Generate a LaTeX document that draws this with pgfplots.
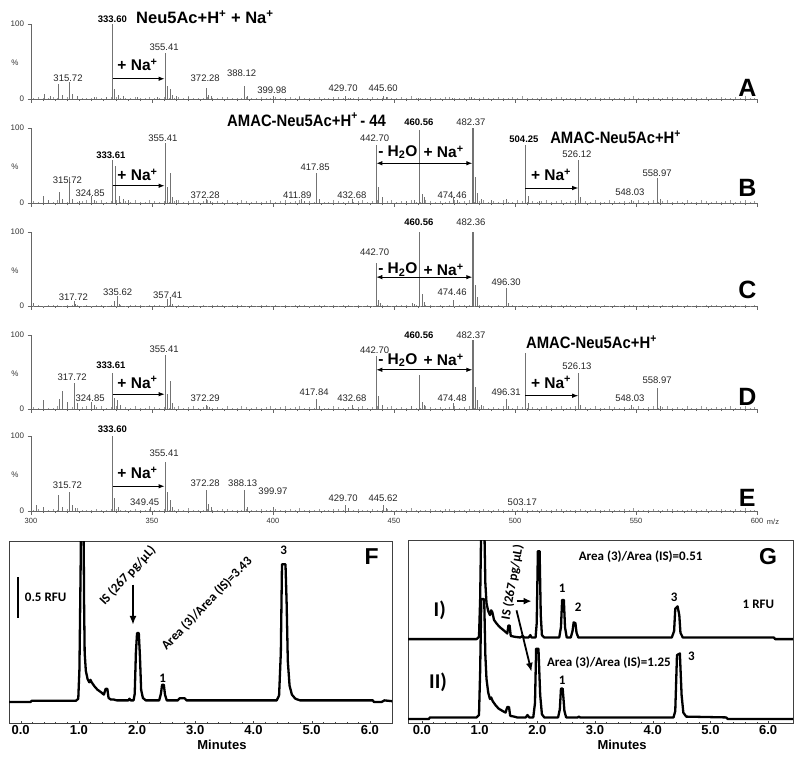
\documentclass[border=0pt]{standalone}
\usepackage{fontspec}
\setmainfont{Liberation Sans}
\newfontfamily\cali{Carlito}
\usepackage{pgfplots}
\pgfplotsset{compat=1.18}
\usepackage{pgfplotstable}
\usetikzlibrary{arrows.meta}

\pgfplotstableread{
x a b c
301 1.2 2.4 0.6
303 2.6 1.5 1.2
305 0.8 3.8 0.4
307 1.9 2.0 0.9
309 3.1 1.2 1.5
311 1.4 4.1 0.7
313 0.9 2.7 0.5
315 2.2 1.8 1.1
317 1.7 3.3 0.8
319 3.4 1.4 1.6
321 1.1 2.9 0.6
323 2.0 4.4 1.0
325 0.7 1.7 0.4
327 2.8 2.2 1.3
329 1.5 3.6 0.7
331 1.0 1.3 0.5
333 2.4 2.5 1.2
335 3.0 3.9 0.6
337 1.3 1.9 1.2
339 0.8 2.4 0.4
341 1.8 1.5 0.9
343 2.7 3.8 1.5
345 1.6 2.0 0.7
347 1.2 1.2 0.5
349 2.6 4.1 1.1
351 0.8 2.7 0.8
353 1.9 1.8 1.6
355 3.1 3.3 0.6
357 1.4 1.4 1.0
359 0.9 2.9 0.4
361 2.2 4.4 1.3
363 1.7 1.7 0.7
365 3.4 2.2 0.5
367 1.1 3.6 1.2
369 2.0 1.3 0.6
371 0.7 2.5 1.2
373 2.8 3.9 0.4
375 1.5 1.9 0.9
377 1.0 2.4 1.5
379 2.4 1.5 0.7
381 3.0 3.8 0.5
383 1.3 2.0 1.1
385 0.8 1.2 0.8
387 1.8 4.1 1.6
389 2.7 2.7 0.6
391 1.6 1.8 1.0
393 1.2 3.3 0.4
395 2.6 1.4 1.3
397 0.8 2.9 0.7
399 1.9 4.4 0.5
401 3.1 1.7 1.2
403 1.4 2.2 0.6
405 0.9 3.6 1.2
407 2.2 1.3 0.4
409 1.7 2.5 0.9
411 3.4 3.9 1.5
413 1.1 1.9 0.7
415 2.0 2.4 0.5
417 0.7 1.5 1.1
419 2.8 3.8 0.8
421 1.5 2.0 1.6
423 1.0 1.2 0.6
425 2.4 4.1 1.0
427 3.0 2.7 0.4
429 1.3 1.8 1.3
431 0.8 3.3 0.7
433 1.8 1.4 0.5
435 2.7 2.9 1.2
437 1.6 4.4 0.6
439 1.2 1.7 1.2
441 2.6 2.2 0.4
443 0.8 3.6 0.9
445 1.9 1.3 1.5
447 3.1 2.5 0.7
449 1.4 3.9 0.5
451 0.9 1.9 1.1
453 2.2 2.4 0.8
455 1.7 1.5 1.6
457 3.4 3.8 0.6
459 1.1 2.0 1.0
461 2.0 1.2 0.4
463 0.7 4.1 1.3
465 2.8 2.7 0.7
467 1.5 1.8 0.5
469 1.0 3.3 1.2
471 2.4 1.4 0.6
473 3.0 2.9 1.2
475 1.3 4.4 0.4
477 0.8 1.7 0.9
479 1.8 2.2 1.5
481 2.7 3.6 0.7
483 1.6 1.3 0.5
485 1.2 2.5 1.1
487 2.6 3.9 0.8
489 0.8 1.9 1.6
491 1.9 2.4 0.6
493 3.1 1.5 1.0
495 1.4 3.8 0.4
497 0.9 2.0 1.3
499 2.2 1.2 0.7
501 1.7 4.1 0.5
503 3.4 2.7 1.2
505 1.1 1.8 0.6
507 2.0 3.3 1.2
509 0.7 1.4 0.4
511 2.8 2.9 0.9
513 1.5 4.4 1.5
515 1.0 1.7 0.7
517 2.4 2.2 0.5
519 3.0 3.6 1.1
521 1.3 1.3 0.8
523 0.8 2.5 1.6
525 1.8 3.9 0.6
527 2.7 1.9 1.0
529 1.6 2.4 0.4
531 1.2 1.5 1.3
533 2.6 3.8 0.7
535 0.8 2.0 0.5
537 1.9 1.2 1.2
539 3.1 4.1 0.6
541 1.4 2.7 1.2
543 0.9 1.8 0.4
545 2.2 3.3 0.9
547 1.7 1.4 1.5
549 3.4 2.9 0.7
551 1.1 4.4 0.5
553 2.0 1.7 1.1
555 0.7 2.2 0.8
557 2.8 3.6 1.6
559 1.5 1.3 0.6
561 1.0 2.5 1.0
563 2.4 3.9 0.4
565 3.0 1.9 1.3
567 1.3 2.4 0.7
569 0.8 1.5 0.5
571 1.8 3.8 1.2
573 2.7 2.0 0.6
575 1.6 1.2 1.2
577 1.2 4.1 0.4
579 2.6 2.7 0.9
581 0.8 1.8 1.5
583 1.9 3.3 0.7
585 3.1 1.4 0.5
587 1.4 2.9 1.1
589 0.9 4.4 0.8
591 2.2 1.7 1.6
593 1.7 2.2 0.6
595 3.4 3.6 1.0
597 1.1 1.3 0.4
599 2.0 2.5 1.3
}\noise

\pgfplotsset{
  spec/.style={width=726pt,height=75pt,scale only axis,
    xmin=300,xmax=600,ymin=0,ymax=100,
    axis x line*=bottom,axis y line*=left,
    axis line style={black!60,line width=0.4pt,-},
    xtick={300,350,...,600},minor x tick num=9,xticklabels={},
    tick align=outside,major tick length=3.5pt,minor tick length=2pt,
    tick style={black!60,line width=0.4pt},
    ytick={0,100},yticklabels={0,100},
    /pgf/number format/assume math mode=true,
    yticklabel style={font=\fontsize{8}{9}\selectfont,text=black!80},
    clip=false},
  pk/.style={ycomb,black!55,line width=0.6pt,mark=none},
  nz/.style={ycomb,black!40,line width=0.35pt,mark=none},
  chrom/.style={scale only axis,
    axis line style={black!75,line width=0.5pt},
    xtick={0,1,2,3,4,5,6},xticklabels={0.0,1.0,2.0,3.0,4.0,5.0,6.0},
    ytick=\empty,xtick pos=bottom,tick align=inside,
    major tick length=2.5pt,minor x tick num=4,minor tick length=1.5pt,
    tick style={black!75},
    /pgf/number format/assume math mode=true,
    xticklabel style={font=\fontsize{13}{14}\selectfont\bfseries,yshift=1pt},
    xlabel={Minutes},
    xlabel style={at={(axis description cs:0.556,0)},anchor=north,yshift=-14pt,
      font=\fontsize{13}{14}\selectfont\bfseries}},
  trace/.style={black,line width=2.3pt,line join=round,line cap=round,mark=none}
}
\tikzset{
  lab/.style={font=\fontsize{9.5}{11}\selectfont,inner sep=0pt,text=black!85},
  blab/.style={font=\fontsize{9.5}{11}\selectfont\bfseries,inner sep=0pt},
  big/.style={font=\fontsize{15.5}{18}\selectfont\bfseries,inner sep=0pt},
  title/.style={font=\fontsize{16.5}{20}\selectfont\bfseries,inner sep=0pt,xscale=0.9},
  letter/.style={font=\fontsize{25}{28}\selectfont\bfseries,inner sep=0pt},
  arr/.style={-{Latex[length=6pt,width=4.5pt]},line width=0.9pt},
  darr/.style={{Latex[length=6pt,width=4.5pt]}-{Latex[length=6pt,width=4.5pt]},line width=0.9pt},
  ann/.style={font={\cali\bfseries\fontsize{13}{15}\selectfont},inner sep=0pt},
  roman/.style={font={\cali\bfseries\fontsize{21}{24}\selectfont},inner sep=0pt},
  pct/.style={font=\fontsize{8}{9}\selectfont,text=black!80}
}

\begin{document}
\begin{tikzpicture}
\useasboundingbox (0,0) rectangle (800pt,-760pt);

% ---------------- A ----------------
\begin{axis}[spec,at={(31pt,-99pt)},anchor=south west]
\addplot[nz] table[x=x,y=a]{\noise};
\addplot[pk] coordinates {(305.5,7)(308,4)(311.4,20)(313,6)(315.72,23)(317,7)(319,4)(326,3)(331,3)(333.6,100)(334.6,14)(336,6)(338,4)(344,3)(352,3)(355.41,61)(356.4,18)(357.4,14)(358.5,6)(360,4)(365,3)(372.28,15)(373.3,6)(374.5,4)(388.12,17)(389.2,4)(399.98,4)(411,2.5)(429.7,4)(432,2)(445.6,4)(447,2.5)(460,2)(474,2)(482,2.5)};
\node[pct] at (rel axis cs:0,0.48) [xshift=-16pt] {\%};
\node[blab] at (axis cs:333.6,107) {333.60};
\node[font=\fontsize{16.5}{20}\selectfont\bfseries,inner sep=0pt,anchor=west] at (axis cs:343.4,109) {Neu5Ac+H\textsuperscript{+} + Na\textsuperscript{+}};
\node[lab] at (axis cs:355.0,69) {355.41};
\node[lab] at (axis cs:315.3,28) {315.72};
\node[lab] at (axis cs:372,28) {372.28};
\node[lab] at (axis cs:387,35) {388.12};
\node[lab] at (axis cs:399.5,12) {399.98};
\node[lab] at (axis cs:429,15) {429.70};
\node[lab] at (axis cs:445.5,15) {445.60};
\node[big] at (axis cs:344,45) {+ Na\textsuperscript{+}};
\draw[arr] (axis cs:333.8,27) -- (axis cs:355.2,27);
\node[letter] at (axis cs:596,15) {A};
\end{axis}

% ---------------- B ----------------
\begin{axis}[spec,at={(31pt,-203pt)},anchor=south west]
\addplot[nz] table[x=x,y=b]{\noise};
\addplot[pk] coordinates {(305,10)(307,4)(311.5,15)(313,5)(315.72,35)(317,6)(320,3)(324.85,9)(326,4)(333.61,57)(335,50)(336.5,10)(338,6)(340,4)(355.41,80)(356.3,22)(357.4,40)(358.5,8)(360,4)(372.28,5)(374,3)(411.89,5)(413,3)(417.85,40)(419,5)(432.68,5)(442.7,78)(443.7,22)(445,8)(455,3)(458.5,4)(460.56,97)(461.5,12)(462.5,8)(474.46,8)(476,4)(482.37,100)(482.9,100)(483.6,35)(484.6,14)(486,6)(490,4)(496.3,5)(504.25,77)(505.3,10)(510,3)(526.12,57)(527.1,8)(548.03,4)(558.97,33)(560,5)};
\node[pct] at (rel axis cs:0,0.48) [xshift=-16pt] {\%};
\node[title,anchor=west] at (axis cs:381,111) {AMAC-Neu5Ac+H\textsuperscript{+}\,- 44};
\node[blab] at (axis cs:460.3,108) {460.56};
\node[lab] at (axis cs:481.8,108) {482.37};
\node[lab] at (axis cs:442,87) {442.70};
\node[big] at (axis cs:451.6,68) {- H\textsubscript{2}O};
\node[big] at (axis cs:470.5,68) {+ Na\textsuperscript{+}};
\draw[darr] (axis cs:442.7,53) -- (axis cs:482.37,53);
\node[blab] at (axis cs:503.7,85) {504.25};
\node[title,anchor=west] at (axis cs:514.5,88) {AMAC-Neu5Ac+H\textsuperscript{+}};
\node[lab] at (axis cs:525.6,65) {526.12};
\node[big] at (axis cs:514.9,37) {+ Na\textsuperscript{+}};
\draw[arr] (axis cs:504.25,20) -- (axis cs:526.12,20);
\node[lab] at (axis cs:558.7,40) {558.97};
\node[lab] at (axis cs:547.5,15) {548.03};
\node[lab] at (axis cs:474,11) {474.46};
\node[blab] at (axis cs:333,64) {333.61};
\node[lab] at (axis cs:354.5,87) {355.41};
\node[lab] at (axis cs:315,31) {315.72};
\node[lab] at (axis cs:324.4,13) {324.85};
\node[big] at (axis cs:344,37) {+ Na\textsuperscript{+}};
\draw[arr] (axis cs:333.8,23) -- (axis cs:355.2,23);
\node[lab] at (axis cs:372,11) {372.28};
\node[lab] at (axis cs:417.4,48) {417.85};
\node[lab] at (axis cs:410,11) {411.89};
\node[lab] at (axis cs:432.6,11) {432.68};
\node[letter] at (axis cs:596,20) {B};
\end{axis}

% ---------------- C ----------------
\begin{axis}[spec,at={(31pt,-306pt)},anchor=south west,height=74pt]
\addplot[nz] table[x=x,y=c]{\noise};
\addplot[pk] coordinates {(301,4)(317.72,7)(318.5,3)(334.3,7)(335.62,13)(336.5,3)(356.2,9)(357.41,12)(358.5,3)(442.7,58)(443.6,8)(444.5,4)(457.5,4)(458.5,3)(460.56,100)(461.5,16)(462.5,5)(474.46,8)(482.36,100)(482.9,100)(483.6,28)(484.5,12)(496.3,24)(497.3,4)};
\node[pct] at (rel axis cs:0,0.48) [xshift=-16pt] {\%};
\node[lab] at (axis cs:317.5,12) {317.72};
\node[lab] at (axis cs:335.8,19) {335.62};
\node[lab] at (axis cs:356.5,14) {357.41};
\node[lab] at (axis cs:442,73) {442.70};
\node[blab] at (axis cs:460.3,113) {460.56};
\node[lab] at (axis cs:481.8,113) {482.36};
\node[big] at (axis cs:451.6,49) {- H\textsubscript{2}O};
\node[big] at (axis cs:470.5,49) {+ Na\textsuperscript{+}};
\draw[darr] (axis cs:442.7,39) -- (axis cs:482.36,39);
\node[lab] at (axis cs:474,19) {474.46};
\node[lab] at (axis cs:496.3,32) {496.30};
\node[letter] at (axis cs:596,22) {C};
\end{axis}

% ---------------- D ----------------
\begin{axis}[spec,at={(31pt,-409pt)},anchor=south west,height=74pt]
\addplot[nz] table[x=x,y=b]{\noise};
\addplot[pk] coordinates {(305,12)(311.5,14)(313,25)(315,10)(317.72,35)(319,8)(324.85,10)(326,5)(333.61,49)(334.5,15)(335.6,12)(337,6)(355.41,73)(356.4,20)(357.4,38)(358.5,8)(372.29,5)(373.5,3)(417.84,14)(419,4)(432.68,5)(442.7,72)(443.7,18)(445,6)(457,4)(460.56,46)(461.5,10)(462.5,5)(474.48,8)(482.37,93)(482.9,93)(483.6,30)(484.6,12)(486,6)(496.31,14)(497.3,4)(504.25,76)(505.3,8)(526.13,49)(527.1,6)(548.03,5)(558.97,28)(560,4)};
\node[pct] at (rel axis cs:0,0.48) [xshift=-16pt] {\%};
\node[lab] at (axis cs:317,43) {317.72};
\node[blab] at (axis cs:333,59) {333.61};
\node[lab] at (axis cs:324.4,15) {324.85};
\node[lab] at (axis cs:355,81) {355.41};
\node[big] at (axis cs:344,36) {+ Na\textsuperscript{+}};
\draw[arr] (axis cs:333.8,20) -- (axis cs:355.2,20);
\node[lab] at (axis cs:372,15) {372.29};
\node[lab] at (axis cs:417,22) {417.84};
\node[lab] at (axis cs:432.6,15) {432.68};
\node[lab] at (axis cs:442,80) {442.70};
\node[blab] at (axis cs:460.3,100) {460.56};
\node[lab] at (axis cs:481.8,100) {482.37};
\node[big] at (axis cs:451.6,66) {- H\textsubscript{2}O};
\node[big] at (axis cs:470.5,66) {+ Na\textsuperscript{+}};
\draw[darr] (axis cs:442.7,53) -- (axis cs:482.37,53);
\node[lab] at (axis cs:474,15) {474.48};
\node[lab] at (axis cs:496.3,22) {496.31};
\node[title,anchor=west] at (axis cs:504.5,90) {AMAC-Neu5Ac+H\textsuperscript{+}};
\node[lab] at (axis cs:525.6,58) {526.13};
\node[big] at (axis cs:514.9,36) {+ Na\textsuperscript{+}};
\draw[arr] (axis cs:504.25,18) -- (axis cs:526.13,18);
\node[lab] at (axis cs:558.7,39) {558.97};
\node[lab] at (axis cs:547.5,15) {548.03};
\node[letter] at (axis cs:596,16) {D};
\end{axis}

% ---------------- E ----------------
\begin{axis}[spec,at={(31pt,-511pt)},anchor=south west,
  xticklabels={300,350,400,450,500,550,600},
  xticklabel style={font=\fontsize{7.5}{9}\selectfont,text=black!80}]
\addplot[nz] table[x=x,y=a]{\noise};
\addplot[pk] coordinates {(302,8)(305,5)(311.4,22)(313,6)(315.72,25)(317,8)(318.5,4)(333.6,100)(334.4,18)(336,6)(349.45,6)(355.41,65)(356.3,25)(357.4,15)(358.5,6)(372.28,28)(373.3,10)(374.5,5)(388.13,28)(389.2,5)(399.97,6)(429.7,8)(431,4)(445.62,8)(447,4)(503.17,3)};
\node[pct] at (rel axis cs:0,0.48) [xshift=-16pt] {\%};
\node[blab] at (axis cs:333.6,109) {333.60};
\node[lab] at (axis cs:355,77) {355.41};
\node[big] at (axis cs:344,51) {+ Na\textsuperscript{+}};
\draw[arr] (axis cs:333.8,33) -- (axis cs:355.2,33);
\node[lab] at (axis cs:315,35) {315.72};
\node[lab] at (axis cs:347,12) {349.45};
\node[lab] at (axis cs:372,37) {372.28};
\node[lab] at (axis cs:387.5,37) {388.13};
\node[lab] at (axis cs:400,27) {399.97};
\node[lab] at (axis cs:429,17) {429.70};
\node[lab] at (axis cs:445.5,17) {445.62};
\node[lab] at (axis cs:503,12) {503.17};
\node[letter] at (axis cs:596,17) {E};
\node[font=\fontsize{7.5}{9}\selectfont,text=black!80] at (rel axis cs:1,0) [xshift=16pt,yshift=-11pt] {m/z};
\end{axis}

% ---------------- F ----------------
\begin{axis}[chrom,at={(9pt,-723pt)},anchor=south west,width=383pt,height=182pt,
  xmin=-0.2,xmax=6.38,ymin=-0.256,ymax=1.963]
\addplot[trace] coordinates {(-0.2,0.0)(0.17,0.0)(0.19,0.015)(0.95,0.015)(0.99,0.04)(1.01,0.4)(1.03,1.6)(1.04,2.3)(1.08,2.3)(1.09,1.2)(1.10,0.6)(1.12,0.38)(1.15,0.28)(1.18,0.24)(1.20,0.27)(1.22,0.24)(1.27,0.19)(1.32,0.15)(1.38,0.12)(1.43,0.09)(1.46,0.16)(1.49,0.16)(1.51,0.05)(1.55,0.03)(1.6,0.03)(1.65,0.02)(1.85,0.02)(1.87,0.04)(1.89,0.02)(1.94,0.02)(1.96,0.1)(1.98,0.6)(2.00,0.84)(2.03,0.84)(2.05,0.55)(2.07,0.15)(2.10,0.05)(2.15,0.02)(2.38,0.02)(2.41,0.1)(2.43,0.21)(2.46,0.21)(2.48,0.09)(2.51,0.02)(2.70,0.02)(2.73,0.045)(2.82,0.045)(2.85,0.02)(4.40,0.02)(4.44,0.08)(4.47,0.6)(4.49,1.68)(4.55,1.68)(4.57,1.2)(4.59,0.5)(4.62,0.2)(4.66,0.09)(4.72,0.04)(4.8,0.02)(6.05,0.02)(6.07,0.0)(6.2,0.0)(6.25,0.02)(6.38,0.01)};
\draw[black,line width=2.2pt] (axis cs:-0.048,1.52) -- (axis cs:-0.048,1.02);
\node[ann,anchor=west] at (axis cs:0.07,1.28) {0.5 RFU};
\node[ann,rotate=47] at (axis cs:1.84,1.54) {IS (267 pg/µL)};
\draw[-{Latex[length=9pt,width=7pt]},line width=1.8pt] (axis cs:1.93,1.43) -- (axis cs:1.93,0.94);
\node[ann,rotate=46] at (axis cs:3.2,1.2) {Area (3)/Area (IS)=3.43};
\node[ann] at (axis cs:2.44,0.29) {1};
\node[ann] at (axis cs:4.52,1.85) {3};
\node[font=\fontsize{23}{26}\selectfont\bfseries,inner sep=0pt] at (axis cs:6.03,1.77) {F};
\end{axis}

% ---------------- G ----------------
\begin{axis}[chrom,at={(408pt,-723pt)},anchor=south west,width=385pt,height=183pt,
  xmin=-0.24,xmax=6.43,ymin=-0.05,ymax=2.24]
\addplot[trace] coordinates {(-0.24,1.0)(0.95,1.0)(0.99,1.03)(1.01,1.5)(1.03,2.5)(1.08,2.5)(1.10,1.7)(1.12,1.45)(1.15,1.35)(1.18,1.3)(1.20,1.36)(1.22,1.34)(1.25,1.24)(1.3,1.19)(1.35,1.15)(1.4,1.12)(1.45,1.09)(1.48,1.07)(1.50,1.17)(1.52,1.17)(1.54,1.04)(1.6,1.03)(1.7,1.02)(1.75,1.04)(1.77,1.02)(1.85,1.02)(1.88,1.05)(1.9,1.02)(1.97,1.02)(1.99,1.2)(2.01,2.1)(2.04,2.1)(2.06,1.3)(2.08,1.05)(2.12,1.02)(2.38,1.02)(2.41,1.15)(2.43,1.49)(2.46,1.49)(2.48,1.15)(2.51,1.02)(2.58,1.02)(2.61,1.1)(2.63,1.21)(2.66,1.2)(2.68,1.08)(2.71,1.02)(4.33,1.02)(4.37,1.1)(4.39,1.38)(4.43,1.41)(4.46,1.3)(4.48,1.08)(4.52,1.02)(6.1,1.02)(6.12,1.0)(6.43,1.0)};
\addplot[trace] coordinates {(-0.24,0.0)(0.12,0.0)(0.14,0.02)(0.95,0.02)(0.99,0.05)(1.01,0.6)(1.03,1.5)(1.08,1.5)(1.10,0.8)(1.12,0.5)(1.15,0.33)(1.18,0.25)(1.20,0.27)(1.23,0.22)(1.28,0.17)(1.33,0.13)(1.4,0.1)(1.45,0.08)(1.48,0.15)(1.51,0.15)(1.53,0.04)(1.6,0.03)(1.65,0.02)(1.8,0.02)(1.83,0.05)(1.86,0.02)(1.93,0.02)(1.96,0.2)(1.98,0.88)(2.02,0.88)(2.05,0.3)(2.08,0.06)(2.12,0.02)(2.36,0.02)(2.39,0.12)(2.41,0.38)(2.44,0.38)(2.47,0.1)(2.5,0.02)(2.7,0.02)(2.72,0.03)(2.74,0.02)(4.36,0.02)(4.39,0.1)(4.42,0.8)(4.47,0.82)(4.50,0.3)(4.53,0.08)(4.58,0.03)(5.27,0.02)(5.3,0.0)(6.43,0.0)};
\node[font=\fontsize{23}{26}\selectfont\bfseries,inner sep=0pt] at (axis cs:6.0,2.03) {G};
\node[ann] at (axis cs:3.79,2.03) {Area (3)/Area (IS)=0.51};
\node[ann] at (axis cs:2.43,1.64) {1};
\node[ann] at (axis cs:2.71,1.40) {2};
\node[ann] at (axis cs:4.37,1.52) {3};
\node[ann] at (axis cs:5.83,1.43) {1 RFU};
\node[roman] at (axis cs:0.31,1.36) {I)};
\node[roman] at (axis cs:0.28,0.46) {II)};
\node[ann] at (axis cs:3.24,0.71) {Area (3)/Area (IS)=1.25};
\node[ann] at (axis cs:4.67,0.78) {3};
\node[ann] at (axis cs:2.43,0.49) {1};
\node[ann,rotate=80] at (axis cs:1.57,1.71) {IS (267 pg/µL)};
\draw[-{Latex[length=8pt,width=7pt]},line width=1.8pt] (axis cs:1.64,1.475) -- (axis cs:1.90,1.475);
\draw[-{Latex[length=9pt,width=7pt]},line width=1.8pt] (axis cs:1.64,1.36) -- (axis cs:1.90,0.59);
\end{axis}
\end{tikzpicture}
\end{document}
